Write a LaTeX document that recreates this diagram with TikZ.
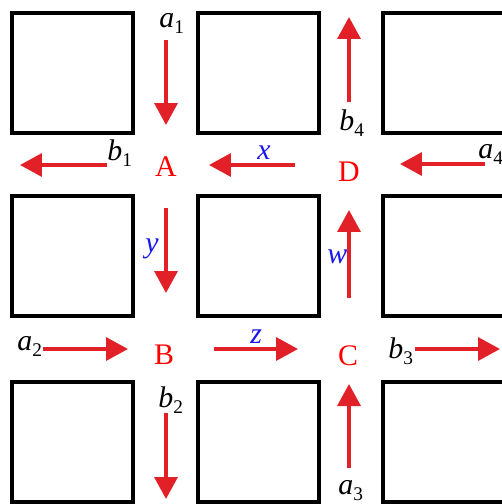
\documentclass[tikz,border=0pt]{standalone}
\usepackage{fontspec}
\setmainfont{Liberation Serif}
\usetikzlibrary{arrows.meta}

\definecolor{flowred}{RGB}{226,32,40}
\definecolor{varblue}{RGB}{25,25,235}

\newcommand{\lowidx}[1]{\raisebox{-0.45ex}{\upshape\fontsize{11}{11}\selectfont #1}}

\begin{document}
\begin{tikzpicture}[x=0.02cm, y=-0.02cm,
  >={Triangle[length=0.44cm, width=0.46cm]},
  block/.style={line width=2.3pt},
  flow/.style={->, line width=2pt, flowred},
  junc/.style={red, inner sep=0pt, font=\fontsize{17}{17}\selectfont},
  var/.style={inner sep=0pt, anchor=base west, font=\fontsize{17}{17}\selectfont\itshape},
  flowvar/.style={var, varblue}]

\clip (0,0) rectangle (502,504);

% Blocks
\foreach \cx in {12,198,383}
  \foreach \cy in {13,196,382}
    \draw[block] (\cx,\cy) rectangle ++(121,120);

% Junctions
\node[junc] (A) at (166,167) {A};
\node[junc] (B) at (164,355) {B};
\node[junc] (C) at (348,356) {C};
\node[junc] (D) at (349,172) {D};

% Flows
\draw[flow] (166,40) -- (166,125);
\draw[flow] (107,165) -- (20,165);
\draw[flow] (295,165) -- (209,165);
\draw[flow] (485,164) -- (400,164);
\draw[flow] (349,102) -- (349,17);
\draw[flow] (166,208) -- (166,293);
\draw[flow] (349,298) -- (349,210);
\draw[flow] (43,349) -- (128,349);
\draw[flow] (214,349) -- (298,349);
\draw[flow] (415,349) -- (500,349);
\draw[flow] (166,413) -- (166,499);
\draw[flow] (349,468) -- (349,384);

% Labels
\node[var] (a1) at (159,27) {a\lowidx{1}};
\node[var] (b1) at (107,160) {b\lowidx{1}};
\node[var] (a2) at (17,350) {a\lowidx{2}};
\node[var] (b2) at (158,407) {b\lowidx{2}};
\node[var] (a3) at (338,494) {a\lowidx{3}};
\node[var] (b3) at (388,358) {b\lowidx{3}};
\node[var] (a4) at (478,158) {a\lowidx{4}};
\node[var] (b4) at (339,130) {b\lowidx{4}};

\node[flowvar] (x) at (257,159) {x};
\node[flowvar] (y) at (145,252) {y};
\node[flowvar] (z) at (250,343) {z};
\node[flowvar] (w) at (327,263) {w};

\end{tikzpicture}
\end{document}
